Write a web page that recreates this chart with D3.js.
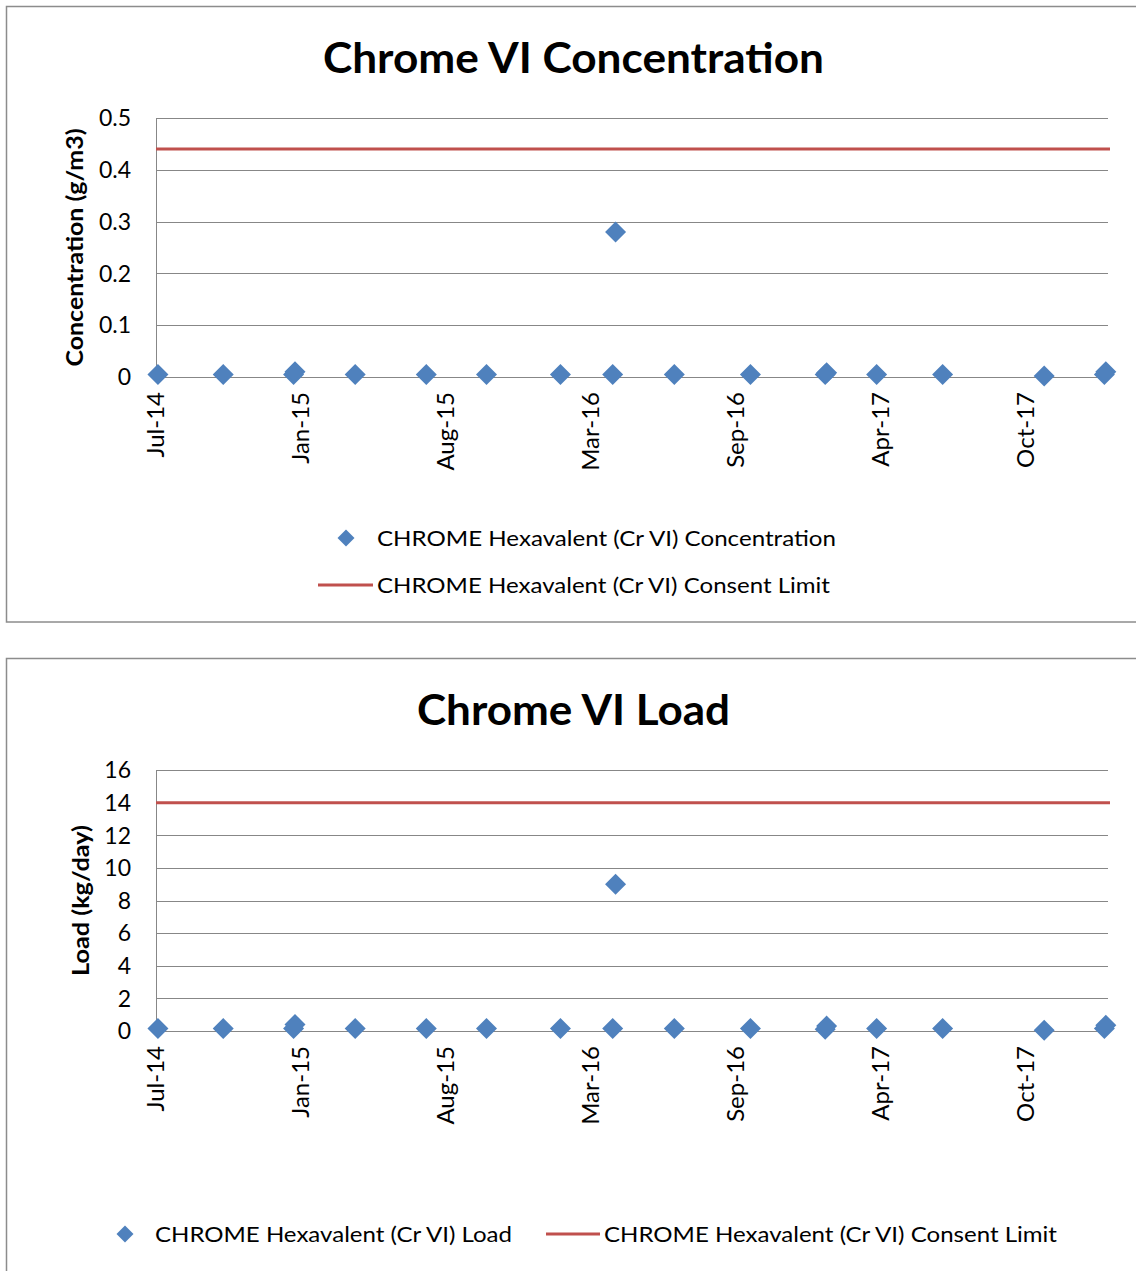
<!DOCTYPE html>
<html>
<head>
<meta charset="utf-8">
<script src="https://cdn.jsdelivr.net/npm/d3@7"></script>
<style>
  html, body { margin: 0; padding: 0; background: #fff; }
  svg { display: block; }
  text { font-family: Lato, "Open Sans", "Liberation Sans", sans-serif; fill: #000; }
</style>
</head>
<body>
<svg id="chart" width="1136" height="1271"></svg>
<script>
// Sampling dates (several visits have two samples a few days apart)
const sampleDates = [
  "2014-07-17", "2014-10-15", "2015-01-20", "2015-01-22", "2015-04-15",
  "2015-07-22", "2015-10-13", "2016-01-23", "2016-04-04", "2016-04-08",
  "2016-06-28", "2016-10-11", "2017-01-22", "2017-01-24", "2017-04-03",
  "2017-07-03", "2017-11-20", "2018-02-11", "2018-02-13"
];
// Chrome VI concentration, g/m3
const concentration = [
  0.005, 0.005, 0.005, 0.010, 0.005,
  0.005, 0.005, 0.005, 0.005, 0.28,
  0.005, 0.005, 0.005, 0.008, 0.005,
  0.005, 0.002, 0.005, 0.010
];
// Chrome VI load, kg/day
const load = [
  0.15, 0.15, 0.15, 0.40, 0.15,
  0.15, 0.15, 0.15, 0.15, 9,
  0.15, 0.15, 0.10, 0.30, 0.15,
  0.15, 0.05, 0.15, 0.35
];
const concentrationLimit = 0.44;
const loadLimit = 14;

const concentrationTicks = [0, 0.1, 0.2, 0.3, 0.4, 0.5];
const loadTicks = [0, 2, 4, 6, 8, 10, 12, 14, 16];
const xTickLabels = ["Jul-14", "Jan-15", "Aug-15", "Mar-16", "Sep-16", "Apr-17", "Oct-17"];

// Date axis: starts mid-July 2014, major unit of 200 days
const parseDate = d3.utcParse("%Y-%m-%d");
const axisStart = parseDate("2014-07-15");
const axisEnd = parseDate("2018-02-16");
const majorUnitDays = 200;

const BLUE = "#4F81BD";
const RED = "#C0504D";
const GRID = "#878787";
const FRAME = "#8c8c8c";

const svg = d3.select("#chart");

function diamond(r) {
  return `M0,${-r}L${r},0L0,${r}L${-r},0Z`;
}

function drawChart(cfg) {
  const g = svg.append("g");

  // chart frame (runs off the right edge of the page)
  g.append("rect")
    .attr("x", 6.5).attr("y", cfg.frameTop)
    .attr("width", 1140).attr("height", cfg.frameHeight)
    .attr("fill", "none").attr("stroke", FRAME).attr("stroke-width", 1.5);

  const x = d3.scaleUtc().domain([axisStart, axisEnd]).range([156.5, 1108]);
  const y = d3.scaleLinear().domain(cfg.yDomain).range([cfg.plotBottom, cfg.plotTop]);

  // horizontal gridlines
  g.append("g").selectAll("line").data(cfg.yTicks).join("line")
    .attr("x1", 156).attr("x2", 1108)
    .attr("y1", d => Math.round(y(d)) + 0.5).attr("y2", d => Math.round(y(d)) + 0.5)
    .attr("stroke", GRID).attr("stroke-width", 1);

  // value axis line
  g.append("line")
    .attr("x1", 156.5).attr("x2", 156.5)
    .attr("y1", y(cfg.yDomain[1])).attr("y2", y(0))
    .attr("stroke", GRID).attr("stroke-width", 1);

  // value tick labels
  g.append("g").selectAll("text").data(cfg.yTicks).join("text")
    .attr("x", 131).attr("y", d => y(d))
    .attr("dy", "0.36em")
    .attr("text-anchor", "end")
    .attr("font-size", 23)
    .text(cfg.yFormat);

  // date tick labels, rotated
  const tickDates = xTickLabels.map((_, i) => d3.utcDay.offset(axisStart, i * majorUnitDays));
  g.append("g").selectAll("text").data(tickDates).join("text")
    .attr("transform", d => `translate(${x(d) - 1},${cfg.xLabelTop}) rotate(-90)`)
    .attr("dy", "0.36em")
    .attr("text-anchor", "end")
    .attr("font-size", 24)
    .text((d, i) => xTickLabels[i]);

  // consent limit
  g.append("line")
    .attr("x1", 156).attr("x2", 1110)
    .attr("y1", y(cfg.limit)).attr("y2", y(cfg.limit))
    .attr("stroke", RED).attr("stroke-width", 3);

  // sample markers
  g.append("g").selectAll("path").data(sampleDates.map((d, i) => ({ date: parseDate(d), v: cfg.values[i] })))
    .join("path")
    .attr("transform", d => `translate(${x(d.date)},${y(d.v)})`)
    .attr("d", diamond(10.5))
    .attr("fill", BLUE);

  // title
  g.append("text")
    .attr("x", 573.5).attr("y", cfg.titleY)
    .attr("text-anchor", "middle")
    .attr("font-size", 42).attr("font-weight", "bold")
    .attr("textLength", cfg.titleWidth).attr("lengthAdjust", "spacingAndGlyphs")
    .text(cfg.title);

  // value axis title
  g.append("text")
    .attr("transform", `translate(${cfg.yTitleX},${(cfg.plotTop + cfg.plotBottom) / 2}) rotate(-90)`)
    .attr("dy", "0.36em")
    .attr("text-anchor", "middle")
    .attr("font-size", 22).attr("font-weight", "bold")
    .attr("textLength", cfg.yTitleWidth).attr("lengthAdjust", "spacingAndGlyphs")
    .text(cfg.yTitle);

  // legend
  const lg = g.append("g");
  const m = cfg.legend.marker;
  lg.append("path")
    .attr("transform", `translate(${m.x},${m.y})`)
    .attr("d", diamond(8.5))
    .attr("fill", BLUE);
  lg.append("text")
    .attr("x", m.textX).attr("y", m.y).attr("dy", "0.36em")
    .attr("font-size", 22)
    .attr("textLength", m.width).attr("lengthAdjust", "spacingAndGlyphs")
    .text(cfg.legend.markerLabel);
  const l = cfg.legend.line;
  lg.append("line")
    .attr("x1", l.x1).attr("x2", l.x2).attr("y1", l.y).attr("y2", l.y)
    .attr("stroke", RED).attr("stroke-width", 3);
  lg.append("text")
    .attr("x", l.textX).attr("y", l.y).attr("dy", "0.36em")
    .attr("font-size", 22)
    .attr("textLength", l.width).attr("lengthAdjust", "spacingAndGlyphs")
    .text("CHROME Hexavalent (Cr VI) Consent Limit");
}

drawChart({
  frameTop: 6.5, frameHeight: 615.5,
  plotTop: 118, plotBottom: 377,
  yDomain: [0, 0.5], yTicks: concentrationTicks,
  yFormat: d => d === 0 ? "0" : d3.format(".1f")(d),
  xLabelTop: 392,
  limit: concentrationLimit,
  values: concentration,
  title: "Chrome VI Concentration", titleY: 73, titleWidth: 501,
  yTitle: "Concentration (g/m3)", yTitleX: 75, yTitleWidth: 238,
  legend: {
    markerLabel: "CHROME Hexavalent (Cr VI) Concentration",
    marker: { x: 346, y: 538, textX: 377, width: 459 },
    line: { x1: 318, x2: 373, y: 585, textX: 377, width: 453 }
  }
});

drawChart({
  frameTop: 658.5, frameHeight: 700,
  plotTop: 770, plotBottom: 1031,
  yDomain: [0, 16], yTicks: loadTicks,
  yFormat: d => String(d),
  xLabelTop: 1046,
  limit: loadLimit,
  values: load,
  title: "Chrome VI Load", titleY: 725, titleWidth: 313,
  yTitle: "Load (kg/day)", yTitleX: 81, yTitleWidth: 151,
  legend: {
    markerLabel: "CHROME Hexavalent (Cr VI) Load",
    marker: { x: 125, y: 1234, textX: 155, width: 357 },
    line: { x1: 546, x2: 600, y: 1234, textX: 604, width: 453 }
  }
});
</script>
</body>
</html>
